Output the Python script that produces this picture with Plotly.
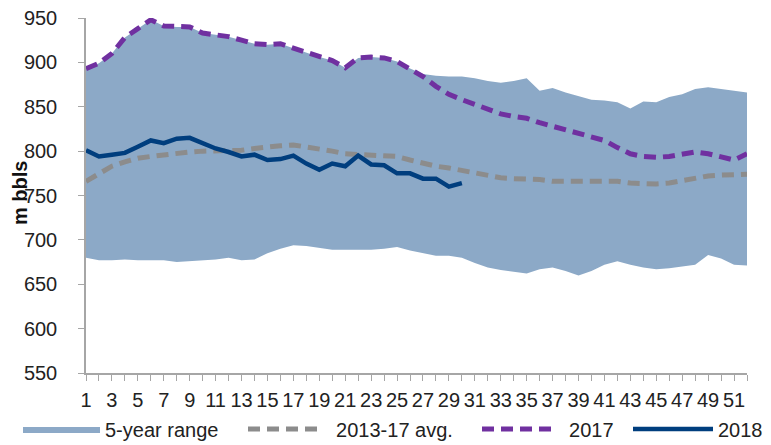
import plotly.graph_objects as go

weeks = list(range(1, 53))

range_max = [893, 899, 910, 928, 938, 948, 941, 940, 940, 933,
             931, 929, 925, 921, 920, 921, 916, 911, 906, 902,
             894, 905, 906, 905, 901, 893, 887, 885, 884, 884,
             882, 879, 877, 879, 882, 868, 871, 866, 862, 858,
             857, 855, 848, 856, 855, 861, 864, 870, 872, 870,
             868, 866]
range_min = [680, 677, 677, 678, 677, 677, 677, 675, 676, 677,
             678, 680, 677, 678, 685, 690, 694, 693, 691, 689,
             689, 689, 689, 690, 692, 688, 685, 682, 682, 680,
             674, 669, 666, 664, 662, 667, 669, 665, 660, 665,
             672, 676, 672, 669, 667, 668, 670, 672, 683, 679,
             672, 671]
avg_2013_17 = [766, 775, 783, 788, 792, 794, 796, 797, 799, 800,
               800, 800, 801, 803, 805, 806, 807, 805, 803, 800,
               797, 796, 796, 795, 794, 790, 786, 783, 781, 778,
               775, 772, 770, 769, 769, 768, 766, 766, 766, 766,
               767, 766, 764, 763, 763, 764, 767, 769, 772, 773,
               773, 774]
y2017 = [893, 899, 910, 928, 938, 948, 941, 940, 940, 933,
         931, 929, 925, 921, 920, 921, 916, 911, 906, 902,
         894, 905, 906, 905, 901, 893, 884, 873, 864, 858,
         853, 847, 842, 839, 837, 832, 828, 825, 820, 817,
         812, 804, 797, 794, 793, 794, 797, 799, 797, 793,
         790, 797]
y2018 = [801, 794, 796, 798, 805, 812, 809, 814, 815, 809,
         803, 799, 794, 796, 790, 791, 795, 786, 779, 786,
         783, 795, 785, 784, 775, 775, 769, 769, 760, 764]

tick_vals = weeks
tick_text = [str(w) if w % 2 == 1 else "" for w in weeks]
y_ticks = list(range(550, 951, 50))
y_title = "m bbls"

FONT = "Liberation Sans, Arial, sans-serif"
AREA = "#8CA9C7"

fig = go.Figure()
fig.add_trace(go.Scatter(x=weeks, y=range_min, mode="lines",
                         line=dict(width=0, color="rgba(0,0,0,0)"),
                         showlegend=False, hoverinfo="skip"))
fig.add_trace(go.Scatter(x=weeks, y=range_max, mode="lines",
                         line=dict(width=0, color="rgba(0,0,0,0)"),
                         fill="tonexty", fillcolor=AREA,
                         name="5-year range", legend="legend"))
fig.add_trace(go.Scatter(x=weeks, y=avg_2013_17, mode="lines",
                         line=dict(color="#8C8C8C", width=5, dash="12px,7px"),
                         name="  2013-17 avg.", legend="legend2"))
fig.add_trace(go.Scatter(x=weeks, y=y2017, mode="lines",
                         line=dict(color="#7030A0", width=5, dash="12px,7px"),
                         name="  2017", legend="legend3"))
fig.add_trace(go.Scatter(x=weeks[:len(y2018)], y=y2018, mode="lines",
                         line=dict(color="#003E7E", width=4.5),
                         name="2018", legend="legend4"))

axis_common = dict(showline=True, linecolor="#A6A6A6", linewidth=1.5,
                   ticks="outside", tickcolor="#A6A6A6", ticklen=6,
                   showgrid=False, zeroline=False, ticklabeloverflow="allow",
                   tickfont=dict(family=FONT, size=20, color="#222222"))

fig.update_xaxes(range=[1, 52], tickmode="array", tickvals=tick_vals,
                 ticktext=tick_text, tickangle=0, ticklabelstandoff=2,
                 **axis_common)
fig.update_yaxes(range=[550, 950], tickmode="array", tickvals=y_ticks,
                 ticklabelstandoff=17, **axis_common)

PL, PW = 78, 661
PT, PB = 10, 80
PH = 445 - PT - PB

def leg(xpx, width):
    return dict(orientation="h", x=(xpx - PL) / PW, xanchor="left",
                y=-(421 - (445 - PB)) / PH, yanchor="middle",
                font=dict(family=FONT, size=20, color="#222222"),
                itemwidth=width, bgcolor="rgba(0,0,0,0)", borderwidth=0)

fig.add_annotation(text="<b>" + y_title + "</b>", textangle=-90,
                   xref="paper", yref="paper",
                   x=(12 - PL) / PW, y=1 - (185 - PT) / PH,
                   xanchor="center", yanchor="middle", showarrow=False,
                   font=dict(family=FONT, size=20, color="#111111"))

fig.update_layout(
    width=771, height=445,
    margin=dict(l=PL, r=771 - PL - PW, t=PT, b=PB, autoexpand=False),
    plot_bgcolor="white", paper_bgcolor="white",
    font=dict(family=FONT, size=20, color="#222222"),
    legend=leg(10, 77),
    legend2=leg(235, 72),
    legend3=leg(469, 71),
    legend4=leg(620, 80),
)

fig.write_html("out.html")
